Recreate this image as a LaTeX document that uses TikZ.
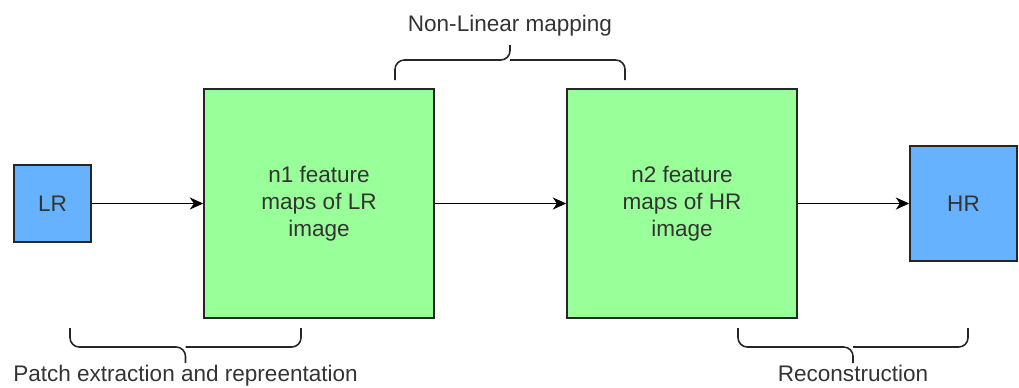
\documentclass[tikz,border=0pt]{standalone}
\usepackage{fontspec}
\setmainfont{Liberation Sans}
\usetikzlibrary{arrows.meta}
\definecolor{featgreen}{HTML}{99FF99}
\definecolor{imgblue}{HTML}{66B2FF}
\definecolor{txtgray}{HTML}{333333}

\begin{document}
\begin{tikzpicture}[x=.75pt,y=-.75pt,>={Stealth[length=10pt,width=9pt,inset=3pt]},
  font=\fontsize{16.9}{20.2}\selectfont,text=txtgray,
  img/.style={draw=black!85,line width=1.2pt,fill=imgblue,inner sep=0pt},
  feat/.style={draw=black!85,line width=1.2pt,fill=featgreen,align=center,inner sep=0pt,
    minimum width=172.5pt,minimum height=171.75pt},
  conn/.style={->,line width=1.3pt},
  brc/.style={line width=1.2pt,draw=black!85,rounded corners=7pt}]
\useasboundingbox (0,0) rectangle (1019,387);

% images and feature maps
\node[img,minimum width=57.75pt,minimum height=57.75pt] (lr) at (52.5,203.5) {LR};
\node[feat] (fm1) at (319,203.5) {n1 feature\\maps of LR\\image};
\node[feat] (fm2) at (682,203.5) {n2 feature\\maps of HR\\image};
\node[img,minimum width=80.25pt,minimum height=86.25pt] (hr) at (963.5,203.5) {HR};

\draw[conn] (lr) -- (fm1);
\draw[conn] (fm1) -- (fm2);
\draw[conn] (fm2) -- (hr);

% braces
\draw[brc] (395,80) |- (510,60) -- (510,45);
\draw[brc] (625,80) |- (510,60);
\node[anchor=base] (nlm) at (510,31) {Non-Linear mapping};

\draw[brc] (70,328) |- (185.5,347) -- (185.5,363);
\draw[brc] (301,328) |- (185.5,347);
\node[anchor=base] (patch) at (185.5,381.5) {Patch extraction and repreentation};

\draw[brc] (738,328) |- (853,347) -- (853,363);
\draw[brc] (968,328) |- (853,347);
\node[anchor=base] (recon) at (853,381.5) {Reconstruction};
\end{tikzpicture}
\end{document}
